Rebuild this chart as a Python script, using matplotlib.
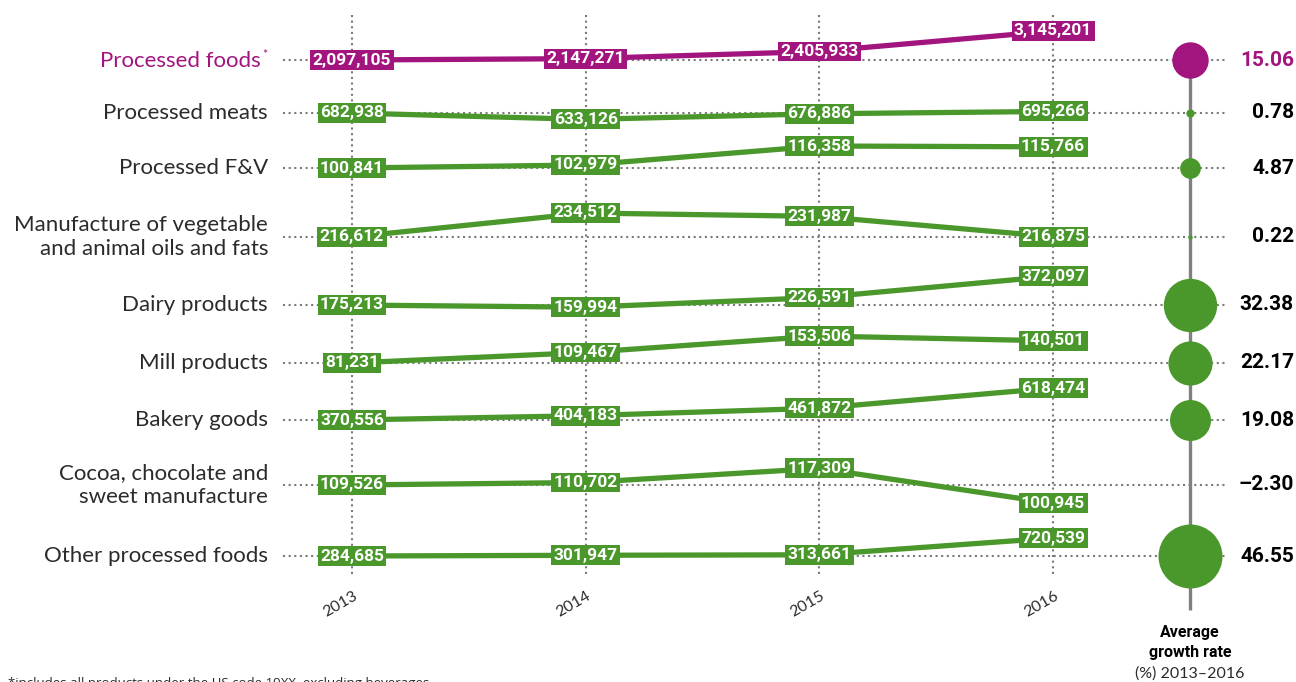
import matplotlib
matplotlib.use("Agg")
import matplotlib.pyplot as plt
import numpy as np

# ---- data ----
categories = [
    "Processed foods",
    "Processed meats",
    "Processed F&V",
    "Manufacture of vegetable\nand animal oils and fats",
    "Dairy products",
    "Mill products",
    "Bakery goods",
    "Cocoa, chocolate and\nsweet manufacture",
    "Other processed foods",
]
years = [2013, 2014, 2015, 2016]
values = [
    [2097105, 2147271, 2405933, 3145201],
    [682938, 633126, 676886, 695266],
    [100841, 102979, 116358, 115766],
    [216612, 234512, 231987, 216875],
    [175213, 159994, 226591, 372097],
    [81231, 109467, 153506, 140501],
    [370556, 404183, 461872, 618474],
    [109526, 110702, 117309, 100945],
    [284685, 301947, 313661, 720539],
]
growth = [15.06, 0.78, 4.87, 0.22, 32.38, 22.17, 19.08, -2.30, 46.55]
footnote = "*includes all products under the HS code 19XX, excluding beverages"

# ---- styling / layout ----
MAGENTA = "#A2157E"
GREEN = "#4A982B"
GREY = "#7a7a7a"
TEXT = "#2b2b2b"
row_y = [60, 113, 168, 237, 305, 363, 420, 485, 556]      # row baselines (px from top)
row_span = [29, 8, 22, 24, 31, 27, 32, 35, 18]            # vertical swing of each row's line (px)
colors = [MAGENTA] + [GREEN] * (len(categories) - 1)

W, H = 1296, 682
x0_px, step_px = 352, 233.7                                 # 2013 position and year spacing


def px2yr(px):
    return years[0] + (px - x0_px) / step_px


fig = plt.figure(figsize=(W / 100, H / 100), dpi=100)
ax = fig.add_axes([0, 0, 1, 1])
ax.set_xlim(px2yr(0), px2yr(W))
ax.set_ylim(H, 0)
ax.axis("off")

dot = (0, (1.0, 1.7))
label_font = dict(family=["Lato", "DejaVu Sans"], weight="normal")
num_font = dict(family=["Roboto", "DejaVu Sans"], weight="bold")

# vertical dotted year guides
for yr in years:
    ax.plot([yr, yr], [15, 576], color=GREY, lw=1.5, ls=dot, zorder=1)

# growth column stem
gx = px2yr(1190)
ax.plot([gx, gx], [row_y[0], 610], color="#808080", lw=2.4, zorder=2, solid_capstyle="butt")

for i, (cat, vals, col) in enumerate(zip(categories, values, colors)):
    base = row_y[i]
    v = np.array(vals, dtype=float)
    ys = base - row_span[i] * (v - v[0]) / (v.max() - v.min())

    # dotted row guide
    ax.plot([px2yr(283), px2yr(1228)], [base, base], color=GREY, lw=1.5, ls=dot, zorder=1)

    # value line
    ax.plot(years, ys, color=col, lw=3.8, zorder=3, solid_capstyle="butt")

    # boxed value labels
    for yr, val, yy in zip(years, vals, ys):
        ax.text(yr, yy, f"{val:,}", ha="center", va="center", color="white",
                fontsize=12.5, zorder=4, **num_font,
                bbox=dict(boxstyle="square,pad=0.14", fc=col, ec="none"))

    # category label
    lbl_col = MAGENTA if i == 0 else TEXT
    if i == 0:
        ax.text(px2yr(261), base + 1, cat, ha="right", va="center", color=lbl_col,
                fontsize=16, linespacing=1.3, **label_font)
        ax.text(px2yr(262), base - 5, "*", ha="left", va="center", color=lbl_col,
                fontsize=9, **label_font)
    else:
        ax.text(px2yr(268), base, cat, ha="right", va="center", color=lbl_col,
                fontsize=16, linespacing=1.3, **label_font)

    # growth bubble and value
    g = growth[i]
    if g > 0:
        ax.scatter([gx], [base], s=45.6 * g, color=col, zorder=5, linewidths=0)
    ax.text(px2yr(1294), base, f"{g:.2f}".replace("-", "\u2013"), ha="right", va="center",
            color=(MAGENTA if i == 0 else "black"), fontsize=15, zorder=5, **num_font)

# year labels
for yr in years:
    ax.text(yr - 12 / step_px, 604, str(yr), rotation=30, ha="center", va="center",
            color=TEXT, fontsize=11.5, **label_font)

# growth column caption
ax.text(gx, 633, "Average", ha="center", va="center", color="black", fontsize=11.5,
        **num_font)
ax.text(gx, 653, "growth rate", ha="center", va="center", color="black", fontsize=11.5,
        **num_font)
ax.text(gx, 674, "(%) 2013\u20132016", ha="center", va="center", color=TEXT,
        fontsize=11.5, **label_font)

# footnote
ax.text(px2yr(8), 677, footnote, ha="left", va="top", color=TEXT, fontsize=9.5,
        family=["Open Sans", "DejaVu Sans"])

fig.savefig("out.png", dpi=100)
